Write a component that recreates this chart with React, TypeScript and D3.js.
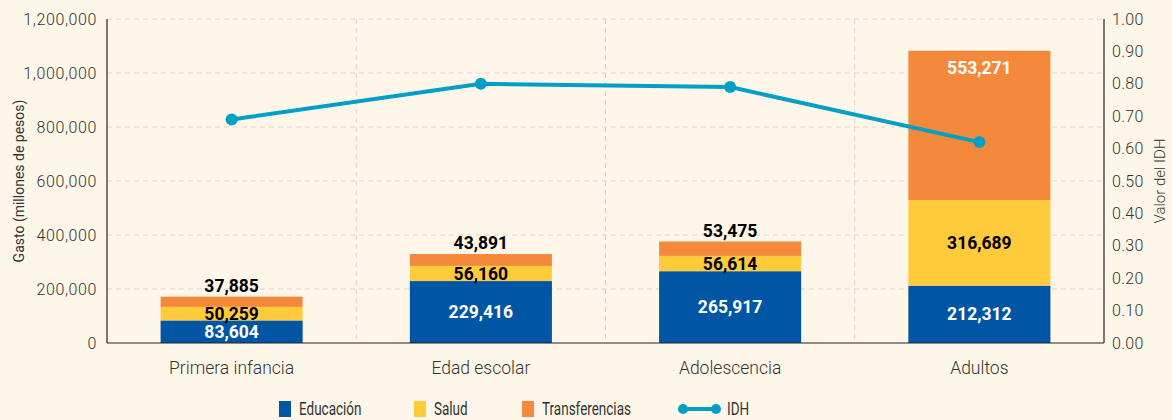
import * as d3 from 'd3';

const categories = ['Primera infancia', 'Edad escolar', 'Adolescencia', 'Adultos'];
const educacion = [83604, 229416, 265917, 212312];
const salud = [50259, 56160, 56614, 316689];
const transferencias = [37885, 43891, 53475, 553271];
const idh = [0.69, 0.8, 0.79, 0.62];
const leftTicks = [0, 200000, 400000, 600000, 800000, 1000000, 1200000];
const rightTicks = [0, 0.1, 0.2, 0.3, 0.4, 0.5, 0.6, 0.7, 0.8, 0.9, 1.0];

const W = 1172;
const H = 420;
const margin = { top: 19, right: 68, bottom: 77, left: 107 };
const FONT = 'Roboto, "Liberation Sans", sans-serif';

const BLUE = '#0055a5';
const YELLOW = '#ffcb3b';
const ORANGE = '#f5893b';
const LINE = '#00a0c6';
const BG = '#fef7e9';

export default function App() {
  const innerW = W - margin.left - margin.right;
  const innerH = H - margin.top - margin.bottom;

  const x = d3.scaleBand<string>().domain(categories).range([0, innerW]).paddingInner(0.43).paddingOuter(0.215);
  const band = d3.scaleBand<string>().domain(categories).range([0, innerW]).padding(0);
  const y = d3.scaleLinear().domain([0, 1200000]).range([innerH, 0]);
  const y2 = d3.scaleLinear().domain([0, 1]).range([innerH, 0]);
  const fmt = d3.format(',');

  const rows = categories.map((c, i) => ({ c, e: educacion[i], s: salud[i], t: transferencias[i] }));
  const stack = d3.stack<any>().keys(['e', 's', 't'])(rows);
  const colors = [BLUE, YELLOW, ORANGE];

  const line = d3.line<number>()
    .x((_, i) => (x(categories[i]) ?? 0) + x.bandwidth() / 2)
    .y(d => y2(d));

  const legend = [
    { label: 'Educación', color: BLUE, x: 279, type: 'box' },
    { label: 'Salud', color: YELLOW, x: 414, type: 'box' },
    { label: 'Transferencias', color: ORANGE, x: 522, type: 'box' },
    { label: 'IDH', color: LINE, x: 678, type: 'line' },
  ];

  return (
    <svg width={W} height={H} style={{ display: 'block', position: 'absolute', left: 0, top: 0, background: BG }} fontFamily={FONT}>
      <rect width={W} height={H} fill={BG} />
      <g transform={`translate(${margin.left},${margin.top})`}>
        {/* grid */}
        {leftTicks.slice(1).map(t => (
          <line key={t} x1={0} x2={innerW} y1={y(t)} y2={y(t)} stroke="#d9d6d0" strokeDasharray="5,4" />
        ))}
        {categories.slice(1).map(c => (
          <line key={c} x1={band(c)} x2={band(c)} y1={0} y2={innerH} stroke="#d9d6d0" strokeDasharray="5,4" />
        ))}

        {/* bars */}
        {stack.map((layer, k) => (
          <g key={k} fill={colors[k]}>
            {layer.map((d, i) => (
              <rect key={i} x={x(categories[i])} width={x.bandwidth()} y={y(d[1])} height={y(d[0]) - y(d[1])} />
            ))}
          </g>
        ))}

        {/* bar labels */}
        {stack.map((layer, k) =>
          layer.map((d, i) => {
            const cx = (x(categories[i]) ?? 0) + x.bandwidth() / 2;
            const v = d[1] - d[0];
            let ly = (y(d[0]) + y(d[1])) / 2;
            let fill = k === 0 ? '#fff' : '#000';
            if (k === 2) {
              if (y(d[0]) - y(d[1]) > 60) {
                ly = y(d[1]) + 17;
                fill = '#fff';
              } else {
                ly = y(d[1]) - 11;
              }
            }
            return (
              <text key={`${k}-${i}`} x={cx} y={ly} dy="0.35em" textAnchor="middle" fontSize={17.5} fontWeight="bold" fill={fill}>
                {fmt(v)}
              </text>
            );
          })
        )}

        {/* IDH line */}
        <path d={line(idh) ?? ''} fill="none" stroke={LINE} strokeWidth={4} />
        {idh.map((v, i) => (
          <circle key={i} cx={(x(categories[i]) ?? 0) + x.bandwidth() / 2} cy={y2(v)} r={6} fill={LINE} />
        ))}

        {/* axes */}
        <line x1={0} x2={0} y1={0} y2={innerH} stroke="#222" strokeWidth={1.2} />
        <line x1={innerW} x2={innerW} y1={0} y2={innerH} stroke="#222" strokeWidth={1.2} />
        <line x1={0} x2={innerW} y1={innerH} y2={innerH} stroke="#222" strokeWidth={1.2} />
        {leftTicks.map(t => (
          <text key={t} x={-10} y={y(t)} dy="0.35em" textAnchor="end" fontSize={16} fontWeight={300} letterSpacing={0.6} fill="#333">{fmt(t)}</text>
        ))}
        {rightTicks.map(t => (
          <text key={t} x={innerW + 8} y={y2(t)} dy="0.35em" textAnchor="start" fontSize={16} fontWeight={300} letterSpacing={0.3} fill="#333">{t.toFixed(2)}</text>
        ))}
        {categories.map(c => (
          <text key={c} x={(band(c) ?? 0) + band.bandwidth() / 2} y={innerH + 25} dy="0.35em" textAnchor="middle" fontSize={17.5} fontWeight={300} fill="#333">{c}</text>
        ))}
        <text transform={`translate(${-83},${innerH / 2}) rotate(-90)`} textAnchor="middle" fontSize={14} fill="#333">Gasto (millones de pesos)</text>
        <text transform={`translate(${innerW + 61},${innerH / 2}) rotate(-90)`} textAnchor="middle" fontSize={15} fontWeight={300} fill="#333">Valor del IDH</text>
      </g>

      {/* legend */}
      {legend.map(l => (
        <g key={l.label}>
          {l.type === 'box' ? (
            <rect x={l.x} y={401} width={12} height={16} fill={l.color} />
          ) : (
            <g>
              <line x1={l.x + 4} x2={l.x + 39} y1={409} y2={409} stroke={l.color} strokeWidth={4} />
              <circle cx={l.x + 5} cy={409} r={5} fill={l.color} />
              <circle cx={l.x + 38} cy={409} r={5} fill={l.color} />
            </g>
          )}
          <text transform={`translate(${l.type === 'box' ? l.x + 20 : l.x + 49},409) scale(0.75,1)`} dy="0.35em" fontSize={18} fill="#333">{l.label}</text>
        </g>
      ))}
    </svg>
  );
}
